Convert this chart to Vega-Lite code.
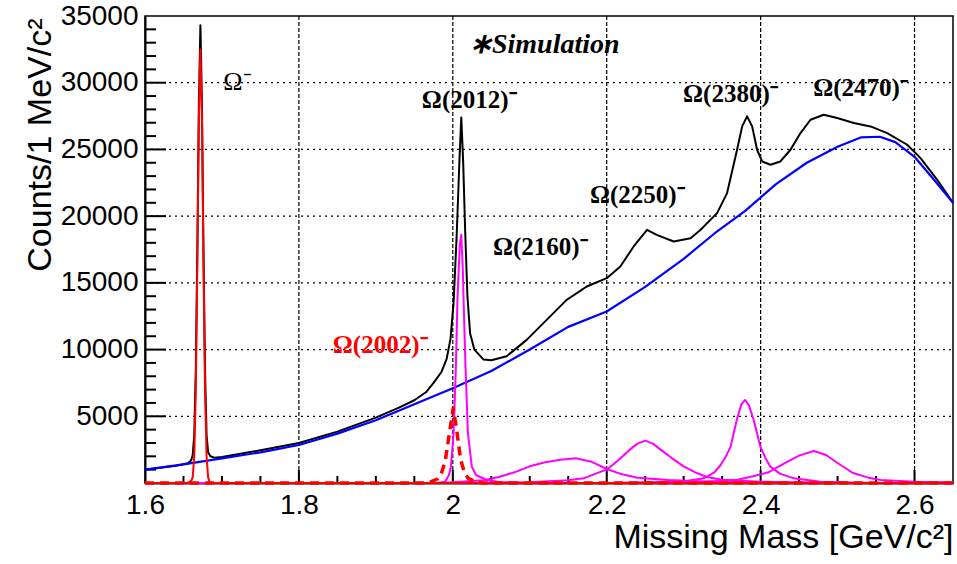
{
  "$schema": "https://vega.github.io/schema/vega-lite/v6.json",
  "width": 808,
  "height": 467,
  "autosize": "none",
  "padding": {"left": 145, "top": 16, "right": 4, "bottom": 81},
  "background": "white",
  "config": {
    "view": {"stroke": "black", "strokeWidth": 1.5},
    "axis": {"labelFlush": false, "labelOverlap": false, "domainColor": "black", "labelColor": "black", "titleColor": "black"}
  },
  "datasets": {
    "curves": [
      {"s": "tot", "m": 1.6, "v": 1000}, {"s": "tot", "m": 1.62, "v": 1150}, {"s": "tot", "m": 1.64, "v": 1300}, {"s": "tot", "m": 1.65, "v": 1400},
      {"s": "tot", "m": 1.656, "v": 1480}, {"s": "tot", "m": 1.66, "v": 1700}, {"s": "tot", "m": 1.662, "v": 2100}, {"s": "tot", "m": 1.664, "v": 3600},
      {"s": "tot", "m": 1.666, "v": 8500}, {"s": "tot", "m": 1.668, "v": 17500}, {"s": "tot", "m": 1.67, "v": 28500}, {"s": "tot", "m": 1.672, "v": 34300},
      {"s": "tot", "m": 1.674, "v": 28500}, {"s": "tot", "m": 1.676, "v": 17500}, {"s": "tot", "m": 1.678, "v": 8500}, {"s": "tot", "m": 1.68, "v": 3600},
      {"s": "tot", "m": 1.682, "v": 2300}, {"s": "tot", "m": 1.685, "v": 2000}, {"s": "tot", "m": 1.69, "v": 1900}, {"s": "tot", "m": 1.7, "v": 1950},
      {"s": "tot", "m": 1.75, "v": 2450}, {"s": "tot", "m": 1.8, "v": 3000}, {"s": "tot", "m": 1.85, "v": 3850}, {"s": "tot", "m": 1.9, "v": 4900},
      {"s": "tot", "m": 1.93, "v": 5650}, {"s": "tot", "m": 1.95, "v": 6200}, {"s": "tot", "m": 1.965, "v": 6800}, {"s": "tot", "m": 1.975, "v": 7500},
      {"s": "tot", "m": 1.985, "v": 8300}, {"s": "tot", "m": 1.992, "v": 9300}, {"s": "tot", "m": 1.997, "v": 10800}, {"s": "tot", "m": 2.001, "v": 13500},
      {"s": "tot", "m": 2.005, "v": 18500}, {"s": "tot", "m": 2.0085, "v": 24000}, {"s": "tot", "m": 2.011, "v": 27400}, {"s": "tot", "m": 2.0135, "v": 24000},
      {"s": "tot", "m": 2.016, "v": 19000}, {"s": "tot", "m": 2.019, "v": 14000}, {"s": "tot", "m": 2.0225, "v": 11200}, {"s": "tot", "m": 2.028, "v": 10000},
      {"s": "tot", "m": 2.04, "v": 9250}, {"s": "tot", "m": 2.05, "v": 9200}, {"s": "tot", "m": 2.07, "v": 9500}, {"s": "tot", "m": 2.096, "v": 10725},
      {"s": "tot", "m": 2.122, "v": 12225}, {"s": "tot", "m": 2.148, "v": 13725}, {"s": "tot", "m": 2.174, "v": 14725}, {"s": "tot", "m": 2.2, "v": 15350},
      {"s": "tot", "m": 2.2177, "v": 16225}, {"s": "tot", "m": 2.235, "v": 17725}, {"s": "tot", "m": 2.2524, "v": 18975}, {"s": "tot", "m": 2.265, "v": 18600},
      {"s": "tot", "m": 2.287, "v": 18100}, {"s": "tot", "m": 2.309, "v": 18350}, {"s": "tot", "m": 2.322, "v": 18975}, {"s": "tot", "m": 2.3434, "v": 20225},
      {"s": "tot", "m": 2.3564, "v": 21725}, {"s": "tot", "m": 2.3694, "v": 24975}, {"s": "tot", "m": 2.376, "v": 26725}, {"s": "tot", "m": 2.3824, "v": 27475},
      {"s": "tot", "m": 2.389, "v": 26725}, {"s": "tot", "m": 2.3954, "v": 24975}, {"s": "tot", "m": 2.402, "v": 24100}, {"s": "tot", "m": 2.4127, "v": 23850},
      {"s": "tot", "m": 2.4257, "v": 24100}, {"s": "tot", "m": 2.4388, "v": 24975}, {"s": "tot", "m": 2.4518, "v": 26225}, {"s": "tot", "m": 2.4648, "v": 27225},
      {"s": "tot", "m": 2.482, "v": 27600}, {"s": "tot", "m": 2.4995, "v": 27350}, {"s": "tot", "m": 2.5211, "v": 26975}, {"s": "tot", "m": 2.5428, "v": 26725},
      {"s": "tot", "m": 2.5645, "v": 26225}, {"s": "tot", "m": 2.5905, "v": 25350}, {"s": "tot", "m": 2.6078, "v": 24350}, {"s": "tot", "m": 2.6295, "v": 22725},
      {"s": "tot", "m": 2.65, "v": 21000},

      {"s": "bg", "m": 1.6, "v": 1000}, {"s": "bg", "m": 1.65, "v": 1400}, {"s": "bg", "m": 1.7, "v": 1850}, {"s": "bg", "m": 1.75, "v": 2300},
      {"s": "bg", "m": 1.8, "v": 2850}, {"s": "bg", "m": 1.85, "v": 3700}, {"s": "bg", "m": 1.9, "v": 4700}, {"s": "bg", "m": 1.95, "v": 5900},
      {"s": "bg", "m": 2.0, "v": 7100}, {"s": "bg", "m": 2.05, "v": 8400}, {"s": "bg", "m": 2.1, "v": 10000}, {"s": "bg", "m": 2.15, "v": 11700},
      {"s": "bg", "m": 2.2, "v": 12850}, {"s": "bg", "m": 2.25, "v": 14700}, {"s": "bg", "m": 2.3, "v": 16800}, {"s": "bg", "m": 2.34, "v": 18700},
      {"s": "bg", "m": 2.38, "v": 20400}, {"s": "bg", "m": 2.42, "v": 22400}, {"s": "bg", "m": 2.46, "v": 24000}, {"s": "bg", "m": 2.5, "v": 25200},
      {"s": "bg", "m": 2.53, "v": 25900}, {"s": "bg", "m": 2.555, "v": 25950}, {"s": "bg", "m": 2.575, "v": 25550}, {"s": "bg", "m": 2.6, "v": 24450},
      {"s": "bg", "m": 2.625, "v": 22750}, {"s": "bg", "m": 2.65, "v": 21000},

      {"s": "p2012", "m": 1.6, "v": 0}, {"s": "p2012", "m": 1.98, "v": 0}, {"s": "p2012", "m": 1.99, "v": 100}, {"s": "p2012", "m": 1.995, "v": 600},
      {"s": "p2012", "m": 1.9975, "v": 1200}, {"s": "p2012", "m": 2.001, "v": 3750}, {"s": "p2012", "m": 2.004, "v": 8700}, {"s": "p2012", "m": 2.006, "v": 13700},
      {"s": "p2012", "m": 2.009, "v": 17800}, {"s": "p2012", "m": 2.011, "v": 18600}, {"s": "p2012", "m": 2.013, "v": 16000}, {"s": "p2012", "m": 2.014, "v": 13700},
      {"s": "p2012", "m": 2.0165, "v": 8700}, {"s": "p2012", "m": 2.0196, "v": 3750}, {"s": "p2012", "m": 2.0247, "v": 1225}, {"s": "p2012", "m": 2.03, "v": 600},
      {"s": "p2012", "m": 2.044, "v": 225}, {"s": "p2012", "m": 2.06, "v": 80}, {"s": "p2012", "m": 2.1, "v": 0}, {"s": "p2012", "m": 2.65, "v": 0},

      {"s": "p2160", "m": 1.6, "v": 0}, {"s": "p2160", "m": 1.98, "v": 0}, {"s": "p2160", "m": 2.0, "v": 60}, {"s": "p2160", "m": 2.04, "v": 200},
      {"s": "p2160", "m": 2.06, "v": 450}, {"s": "p2160", "m": 2.08, "v": 800}, {"s": "p2160", "m": 2.1, "v": 1250}, {"s": "p2160", "m": 2.12, "v": 1550},
      {"s": "p2160", "m": 2.14, "v": 1750}, {"s": "p2160", "m": 2.16, "v": 1850}, {"s": "p2160", "m": 2.18, "v": 1600}, {"s": "p2160", "m": 2.2, "v": 1050},
      {"s": "p2160", "m": 2.22, "v": 650}, {"s": "p2160", "m": 2.24, "v": 400}, {"s": "p2160", "m": 2.28, "v": 220}, {"s": "p2160", "m": 2.32, "v": 130},
      {"s": "p2160", "m": 2.4, "v": 50}, {"s": "p2160", "m": 2.5, "v": 0}, {"s": "p2160", "m": 2.65, "v": 0},

      {"s": "p2250", "m": 1.6, "v": 0}, {"s": "p2250", "m": 2.05, "v": 0}, {"s": "p2250", "m": 2.1, "v": 50}, {"s": "p2250", "m": 2.15, "v": 200},
      {"s": "p2250", "m": 2.17, "v": 350}, {"s": "p2250", "m": 2.19, "v": 800}, {"s": "p2250", "m": 2.2, "v": 1000}, {"s": "p2250", "m": 2.215, "v": 1700},
      {"s": "p2250", "m": 2.23, "v": 2500}, {"s": "p2250", "m": 2.24, "v": 2950}, {"s": "p2250", "m": 2.25, "v": 3175}, {"s": "p2250", "m": 2.26, "v": 2950},
      {"s": "p2250", "m": 2.27, "v": 2500}, {"s": "p2250", "m": 2.285, "v": 1850}, {"s": "p2250", "m": 2.3, "v": 1250}, {"s": "p2250", "m": 2.315, "v": 800},
      {"s": "p2250", "m": 2.33, "v": 450}, {"s": "p2250", "m": 2.35, "v": 250}, {"s": "p2250", "m": 2.4, "v": 100}, {"s": "p2250", "m": 2.5, "v": 0},
      {"s": "p2250", "m": 2.65, "v": 0},

      {"s": "p2380", "m": 1.6, "v": 0}, {"s": "p2380", "m": 2.2, "v": 0}, {"s": "p2380", "m": 2.3, "v": 120}, {"s": "p2380", "m": 2.326, "v": 350},
      {"s": "p2380", "m": 2.34, "v": 800}, {"s": "p2380", "m": 2.348, "v": 1350}, {"s": "p2380", "m": 2.355, "v": 2000}, {"s": "p2380", "m": 2.361, "v": 2725},
      {"s": "p2380", "m": 2.369, "v": 4725}, {"s": "p2380", "m": 2.375, "v": 5900}, {"s": "p2380", "m": 2.38, "v": 6225}, {"s": "p2380", "m": 2.385, "v": 5800},
      {"s": "p2380", "m": 2.391, "v": 4725}, {"s": "p2380", "m": 2.3997, "v": 2725}, {"s": "p2380", "m": 2.406, "v": 1900}, {"s": "p2380", "m": 2.4127, "v": 1225},
      {"s": "p2380", "m": 2.425, "v": 700}, {"s": "p2380", "m": 2.443, "v": 350}, {"s": "p2380", "m": 2.478, "v": 100}, {"s": "p2380", "m": 2.55, "v": 0},
      {"s": "p2380", "m": 2.65, "v": 0},

      {"s": "p2470", "m": 1.6, "v": 0}, {"s": "p2470", "m": 2.25, "v": 0}, {"s": "p2470", "m": 2.33, "v": 100}, {"s": "p2470", "m": 2.37, "v": 250},
      {"s": "p2470", "m": 2.39, "v": 500}, {"s": "p2470", "m": 2.41, "v": 800}, {"s": "p2470", "m": 2.435, "v": 1600}, {"s": "p2470", "m": 2.45, "v": 2050},
      {"s": "p2470", "m": 2.469, "v": 2400}, {"s": "p2470", "m": 2.485, "v": 2100}, {"s": "p2470", "m": 2.5, "v": 1500}, {"s": "p2470", "m": 2.52, "v": 750},
      {"s": "p2470", "m": 2.54, "v": 400}, {"s": "p2470", "m": 2.556, "v": 230}, {"s": "p2470", "m": 2.6, "v": 100}, {"s": "p2470", "m": 2.65, "v": 50},

      {"s": "om", "m": 1.6, "v": 0}, {"s": "om", "m": 1.655, "v": 0}, {"s": "om", "m": 1.66, "v": 150}, {"s": "om", "m": 1.662, "v": 430},
      {"s": "om", "m": 1.664, "v": 2040}, {"s": "om", "m": 1.666, "v": 6850}, {"s": "om", "m": 1.668, "v": 16300}, {"s": "om", "m": 1.67, "v": 27300},
      {"s": "om", "m": 1.672, "v": 32500}, {"s": "om", "m": 1.674, "v": 27300}, {"s": "om", "m": 1.676, "v": 16300}, {"s": "om", "m": 1.678, "v": 6850},
      {"s": "om", "m": 1.68, "v": 2040}, {"s": "om", "m": 1.682, "v": 430}, {"s": "om", "m": 1.684, "v": 60}, {"s": "om", "m": 1.69, "v": 0},
      {"s": "om", "m": 2.65, "v": 0},

      {"s": "p2002", "m": 1.6, "v": 0}, {"s": "p2002", "m": 1.96, "v": 0}, {"s": "p2002", "m": 1.97, "v": 60}, {"s": "p2002", "m": 1.98, "v": 300},
      {"s": "p2002", "m": 1.985, "v": 700}, {"s": "p2002", "m": 1.99, "v": 1600}, {"s": "p2002", "m": 1.995, "v": 3500}, {"s": "p2002", "m": 2.0005, "v": 5600},
      {"s": "p2002", "m": 2.005, "v": 4000}, {"s": "p2002", "m": 2.01, "v": 1800}, {"s": "p2002", "m": 2.015, "v": 800}, {"s": "p2002", "m": 2.02, "v": 350},
      {"s": "p2002", "m": 2.03, "v": 80}, {"s": "p2002", "m": 2.04, "v": 0}, {"s": "p2002", "m": 2.65, "v": 0}
    ],
    "gridX": [{"m": 1.8}, {"m": 2.0}, {"m": 2.2}, {"m": 2.4}, {"m": 2.6}],
    "gridY": [{"v": 5000}, {"v": 10000}, {"v": 15000}, {"v": 20000}, {"v": 25000}, {"v": 30000}],
    "minorX": [{"m": 1.65}, {"m": 1.7}, {"m": 1.75}, {"m": 1.85}, {"m": 1.9}, {"m": 1.95}, {"m": 2.05}, {"m": 2.1}, {"m": 2.15}, {"m": 2.25}, {"m": 2.3}, {"m": 2.35}, {"m": 2.45}, {"m": 2.5}, {"m": 2.55}],
    "minorY": [{"v": 1000}, {"v": 2000}, {"v": 3000}, {"v": 4000}, {"v": 6000}, {"v": 7000}, {"v": 8000}, {"v": 9000}, {"v": 11000}, {"v": 12000}, {"v": 13000}, {"v": 14000}, {"v": 16000}, {"v": 17000}, {"v": 18000}, {"v": 19000}, {"v": 21000}, {"v": 22000}, {"v": 23000}, {"v": 24000}, {"v": 26000}, {"v": 27000}, {"v": 28000}, {"v": 29000}, {"v": 31000}, {"v": 32000}, {"v": 33000}, {"v": 34000}],
    "blackLabels": [
      {"m": 2.0213, "v": 28725, "t": "Ω(2012)⁻"},
      {"m": 2.1137, "v": 17700, "t": "Ω(2160)⁻"},
      {"m": 2.2398, "v": 21600, "t": "Ω(2250)⁻"},
      {"m": 2.3607, "v": 29175, "t": "Ω(2380)⁻"},
      {"m": 2.5298, "v": 29625, "t": "Ω(2470)⁻"}
    ],
    "redLabels": [{"m": 1.9056, "v": 10350, "t": "Ω(2002)⁻"}],
    "omLabel": [{"m": 1.72, "v": 30075, "t": "Ω⁻"}],
    "simLabel": [{"m": 2.1189, "v": 32850, "t": "∗Simulation"}]
  },
  "layer": [
    {
      "data": {"name": "gridX"},
      "mark": {"type": "rect", "filled": false, "stroke": "black", "strokeWidth": 1.2, "strokeDash": [2, 4]},
      "encoding": {
        "x": {"field": "m", "type": "quantitative", "scale": {"domain": [1.6, 2.65], "nice": false, "zero": false}},
        "x2": {"field": "m"},
        "y": {"datum": 0, "type": "quantitative", "scale": {"domain": [0, 35000], "nice": false}},
        "y2": {"datum": 35000}
      }
    },
    {
      "data": {"name": "gridY"},
      "mark": {"type": "rect", "filled": false, "stroke": "black", "strokeWidth": 1.2, "strokeDash": [2, 4]},
      "encoding": {
        "y": {"field": "v", "type": "quantitative", "scale": {"domain": [0, 35000], "nice": false}},
        "y2": {"field": "v"},
        "x": {"datum": 1.6, "type": "quantitative", "scale": {"domain": [1.6, 2.65], "nice": false, "zero": false}},
        "x2": {"datum": 2.65}
      }
    },
    {
      "data": {"name": "gridX"},
      "mark": {"type": "tick", "orient": "vertical", "color": "black", "size": 13, "thickness": 2, "opacity": 1},
      "encoding": {
        "x": {"field": "m", "type": "quantitative", "scale": {"domain": [1.6, 2.65], "nice": false, "zero": false}},
        "y": {"datum": 487, "type": "quantitative", "scale": {"domain": [0, 35000], "nice": false}}
      }
    },
    {
      "data": {"name": "minorX"},
      "mark": {"type": "tick", "orient": "vertical", "color": "black", "size": 7, "thickness": 2, "opacity": 1},
      "encoding": {
        "x": {"field": "m", "type": "quantitative", "scale": {"domain": [1.6, 2.65], "nice": false, "zero": false}},
        "y": {"datum": 262, "type": "quantitative", "scale": {"domain": [0, 35000], "nice": false}}
      }
    },
    {
      "data": {"name": "gridY"},
      "mark": {"type": "tick", "orient": "horizontal", "color": "black", "size": 21, "thickness": 2, "opacity": 1},
      "encoding": {
        "y": {"field": "v", "type": "quantitative", "scale": {"domain": [0, 35000], "nice": false}},
        "x": {"datum": 1.61365, "type": "quantitative", "scale": {"domain": [1.6, 2.65], "nice": false, "zero": false}}
      }
    },
    {
      "data": {"name": "minorY"},
      "mark": {"type": "tick", "orient": "horizontal", "color": "black", "size": 11, "thickness": 2, "opacity": 1},
      "encoding": {
        "y": {"field": "v", "type": "quantitative", "scale": {"domain": [0, 35000], "nice": false}},
        "x": {"datum": 1.60715, "type": "quantitative", "scale": {"domain": [1.6, 2.65], "nice": false, "zero": false}}
      }
    },
    {
      "data": {"name": "curves"},
      "transform": [{"filter": "datum.s === 'tot'"}],
      "mark": {"type": "line", "color": "black", "strokeWidth": 2, "strokeJoin": "round"},
      "encoding": {
        "x": {
          "field": "m", "type": "quantitative",
          "scale": {"domain": [1.6, 2.65], "nice": false, "zero": false},
          "axis": {
            "orient": "bottom",
            "values": [1.6, 1.8, 2.0, 2.2, 2.4, 2.6],
            "format": "~g",
            "ticks": false,
            "labelPadding": 8, "labelFont": "Liberation Sans", "labelFontSize": 28,
            "domainWidth": 2,
            "grid": false,
            "title": "Missing Mass [GeV/c²]",
            "titleFont": "Liberation Sans", "titleFontSize": 34, "titleFontWeight": "normal",
            "titleAnchor": "end", "titleAlign": "right", "titleBaseline": "alphabetic",
            "titleX": 808, "titleY": 64
          }
        },
        "y": {
          "field": "v", "type": "quantitative",
          "scale": {"domain": [0, 35000], "nice": false, "zero": true},
          "axis": {
            "orient": "left",
            "values": [5000, 10000, 15000, 20000, 25000, 30000, 35000],
            "format": "d",
            "ticks": false,
            "labelPadding": 7, "labelFont": "Liberation Sans", "labelFontSize": 28,
            "domainWidth": 2,
            "grid": false,
            "title": "Counts/1 MeV/c²",
            "titleFont": "Liberation Sans", "titleFontSize": 34, "titleFontWeight": "normal",
            "titleAnchor": "end", "titleAlign": "right", "titleBaseline": "alphabetic", "titleAngle": -90,
            "titleX": -95, "titleY": 2
          }
        }
      }
    },
    {
      "data": {"name": "curves"},
      "transform": [{"filter": "datum.s === 'bg'"}],
      "mark": {"type": "line", "color": "#0000ff", "strokeWidth": 2.2, "strokeJoin": "round"},
      "encoding": {
        "x": {"field": "m", "type": "quantitative", "scale": {"domain": [1.6, 2.65], "nice": false, "zero": false}},
        "y": {"field": "v", "type": "quantitative", "scale": {"domain": [0, 35000], "nice": false}}
      }
    },
    {
      "data": {"name": "curves"},
      "transform": [{"filter": "indexof(['p2012','p2160','p2250','p2380','p2470'], datum.s) >= 0"}],
      "mark": {"type": "line", "color": "#ff00ff", "strokeWidth": 2, "strokeJoin": "round"},
      "encoding": {
        "detail": {"field": "s"},
        "x": {"field": "m", "type": "quantitative", "scale": {"domain": [1.6, 2.65], "nice": false, "zero": false}},
        "y": {"field": "v", "type": "quantitative", "scale": {"domain": [0, 35000], "nice": false}}
      }
    },
    {
      "data": {"name": "curves"},
      "transform": [{"filter": "datum.s === 'om'"}],
      "mark": {"type": "line", "color": "#ff0000", "strokeWidth": 2, "strokeJoin": "round"},
      "encoding": {
        "x": {"field": "m", "type": "quantitative", "scale": {"domain": [1.6, 2.65], "nice": false, "zero": false}},
        "y": {"field": "v", "type": "quantitative", "scale": {"domain": [0, 35000], "nice": false}}
      }
    },
    {
      "data": {"name": "curves"},
      "transform": [{"filter": "datum.s === 'p2002'"}],
      "mark": {"type": "line", "color": "#ff0000", "strokeWidth": 3.5, "strokeDash": [9, 6], "strokeJoin": "round"},
      "encoding": {
        "x": {"field": "m", "type": "quantitative", "scale": {"domain": [1.6, 2.65], "nice": false, "zero": false}},
        "y": {"field": "v", "type": "quantitative", "scale": {"domain": [0, 35000], "nice": false}}
      }
    },
    {
      "data": {"name": "blackLabels"},
      "mark": {"type": "text", "font": "Liberation Serif", "fontSize": 25, "fontWeight": "bold", "color": "black", "align": "center", "baseline": "middle"},
      "encoding": {
        "x": {"field": "m", "type": "quantitative", "scale": {"domain": [1.6, 2.65], "nice": false, "zero": false}},
        "y": {"field": "v", "type": "quantitative", "scale": {"domain": [0, 35000], "nice": false}},
        "text": {"field": "t"}
      }
    },
    {
      "data": {"name": "redLabels"},
      "mark": {"type": "text", "font": "Liberation Serif", "fontSize": 25, "fontWeight": "bold", "color": "#ff0000", "align": "center", "baseline": "middle"},
      "encoding": {
        "x": {"field": "m", "type": "quantitative", "scale": {"domain": [1.6, 2.65], "nice": false, "zero": false}},
        "y": {"field": "v", "type": "quantitative", "scale": {"domain": [0, 35000], "nice": false}},
        "text": {"field": "t"}
      }
    },
    {
      "data": {"name": "omLabel"},
      "mark": {"type": "text", "font": "Liberation Serif", "fontSize": 26, "fontWeight": "normal", "color": "black", "align": "center", "baseline": "middle"},
      "encoding": {
        "x": {"field": "m", "type": "quantitative", "scale": {"domain": [1.6, 2.65], "nice": false, "zero": false}},
        "y": {"field": "v", "type": "quantitative", "scale": {"domain": [0, 35000], "nice": false}},
        "text": {"field": "t"}
      }
    },
    {
      "data": {"name": "simLabel"},
      "mark": {"type": "text", "font": "Liberation Serif", "fontSize": 28, "fontWeight": "bold", "fontStyle": "italic", "color": "black", "align": "center", "baseline": "middle"},
      "encoding": {
        "x": {"field": "m", "type": "quantitative", "scale": {"domain": [1.6, 2.65], "nice": false, "zero": false}},
        "y": {"field": "v", "type": "quantitative", "scale": {"domain": [0, 35000], "nice": false}},
        "text": {"field": "t"}
      }
    }
  ]
}
